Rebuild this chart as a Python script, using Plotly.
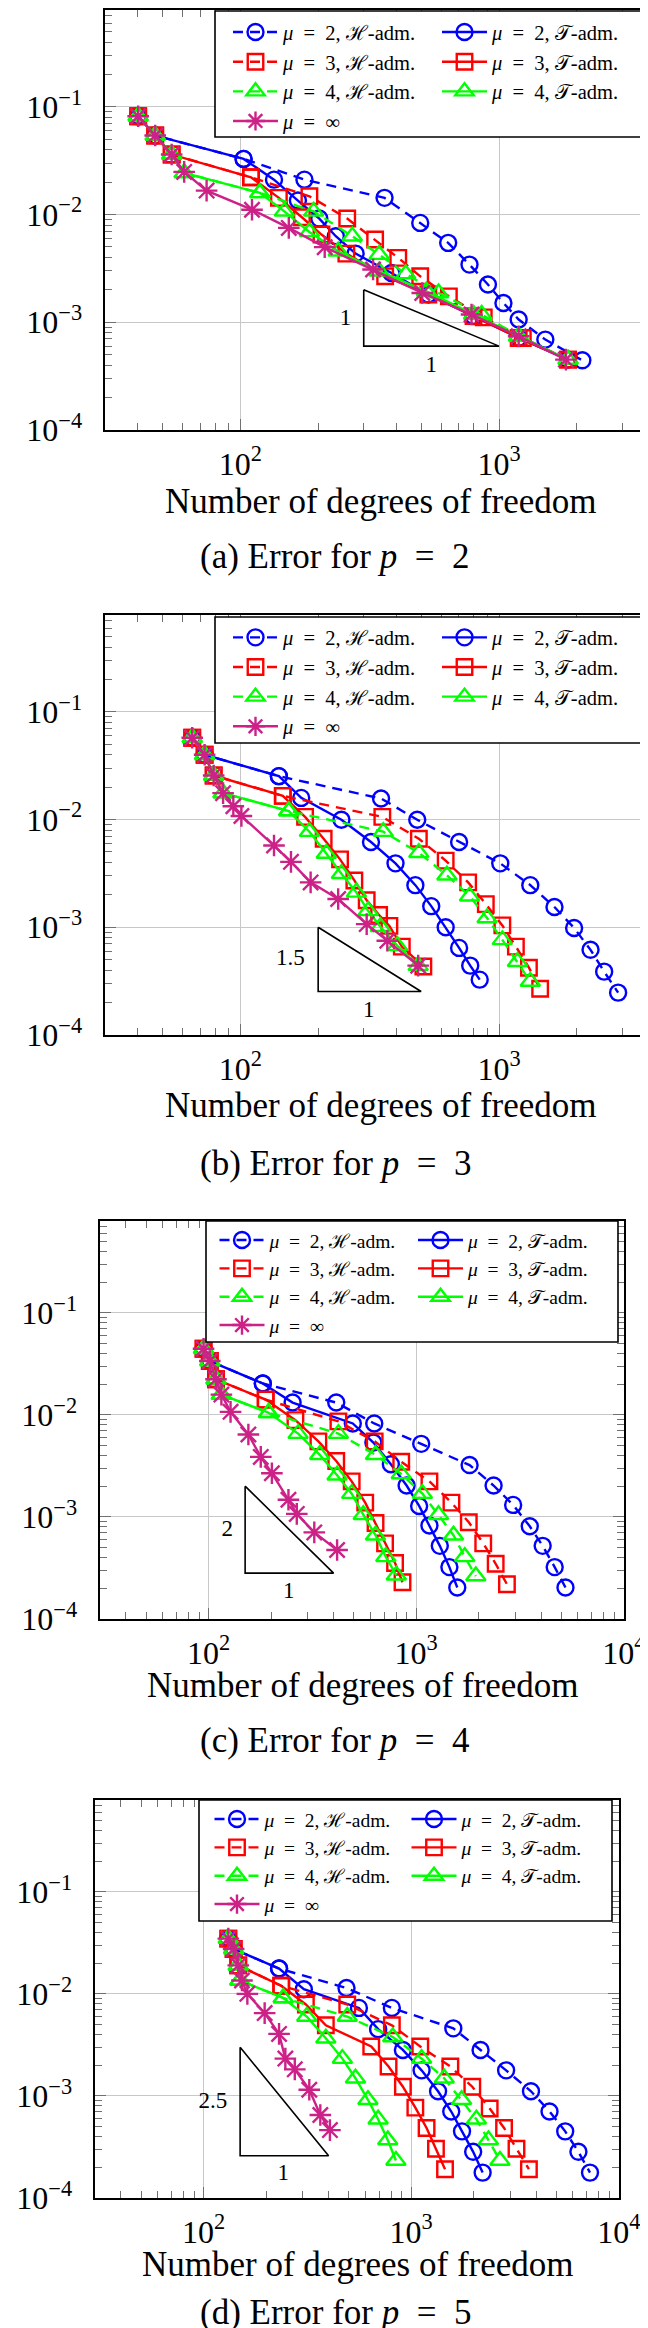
import math
import plotly.graph_objects as go

FONT = "Liberation Serif"
W, H = 648, 2328
ML = 80  # left margin: keeps each legend wrapping into two columns


def fx(px):
    return (px - ML) / (W - ML)


def fy(py):
    return 1 - py / H


# ---------------- data ----------------
# (a) p = 2
a_x_H2 = [40.3, 46.9, 103, 177, 361, 496, 636, 769, 906, 1040, 1191, 1510, 2099]
a_y_H2 = [0.0819, 0.0542, 0.0329, 0.0211, 0.0143, 0.00837, 0.00546, 0.00343, 0.00224, 0.00151, 0.00106, 0.00069, 0.000443]
a_x_T2 = [40.3, 46.9, 103, 135, 167, 202, 234, 279, 384, 533, 797, 1191, 1849]
a_y_T2 = [0.0819, 0.0542, 0.0329, 0.0211, 0.0135, 0.00918, 0.00629, 0.00434, 0.00287, 0.00181, 0.00114, 0.000715, 0.00045]
a_x_H3 = [40.3, 46.9, 54.3, 110, 185, 259, 332, 408, 496, 640, 873, 1236, 1849]
a_y_H3 = [0.0819, 0.0542, 0.0361, 0.0222, 0.0148, 0.00918, 0.00586, 0.00396, 0.00267, 0.00174, 0.00111, 0.000715, 0.00045]
a_x_T3 = [40.3, 46.9, 54.3, 110, 141, 173, 206, 257, 363, 533, 797, 1191, 1849]
a_y_T3 = [0.0819, 0.0542, 0.0361, 0.0222, 0.0143, 0.00944, 0.00652, 0.00434, 0.00267, 0.00181, 0.00114, 0.000715, 0.00045]
a_x_H4 = [40.3, 46.9, 54.3, 60.7, 119, 192, 271, 344, 436, 584, 857, 1191, 1849]
a_y_H4 = [0.0819, 0.0542, 0.0361, 0.0244, 0.0159, 0.0107, 0.00629, 0.00425, 0.00281, 0.00187, 0.00118, 0.000741, 0.00045]
a_x_T4 = [40.3, 46.9, 54.3, 60.7, 119, 148, 185, 239, 344, 524, 797, 1191, 1849]
a_y_T4 = [0.0819, 0.0542, 0.0361, 0.0244, 0.0159, 0.0107, 0.0069, 0.00456, 0.00298, 0.00194, 0.00118, 0.000741, 0.00045]
a_x_inf = [40.3, 46.9, 54.3, 60.7, 74.1, 111, 154, 212, 326, 505, 783, 1191, 1814]
a_y_inf = [0.0819, 0.0542, 0.0361, 0.0249, 0.0167, 0.0111, 0.00752, 0.00498, 0.00309, 0.00187, 0.00118, 0.000741, 0.00045]

# (b) p = 3
b_x_H2 = [65.2, 72.8, 141, 350, 483, 701, 1011, 1321, 1638, 1951, 2258, 2549, 2886]
b_y_H2 = [0.0576, 0.0400, 0.0253, 0.0157, 0.00996, 0.00619, 0.00392, 0.00246, 0.00154, 0.000984, 0.000617, 0.000387, 0.000247]
b_x_T2 = [65.2, 72.8, 141, 172, 246, 320, 398, 475, 547, 622, 701, 774, 842]
b_y_T2 = [0.0576, 0.0400, 0.0253, 0.0159, 0.00996, 0.00619, 0.00392, 0.00246, 0.00157, 0.00100, 0.000643, 0.000440, 0.000326]
b_x_H3 = [65.2, 72.8, 78.9, 146, 354, 490, 622, 760, 889, 1030, 1162, 1305, 1442]
b_y_H3 = [0.0576, 0.0400, 0.0257, 0.0166, 0.0106, 0.00663, 0.00416, 0.00261, 0.00164, 0.00104, 0.000661, 0.000421, 0.000268]
b_x_T3 = [65.2, 72.8, 78.9, 146, 178, 210, 243, 276, 308, 344, 377, 421, 510]
b_y_T3 = [0.0576, 0.0400, 0.0257, 0.0166, 0.0106, 0.00663, 0.00427, 0.00272, 0.00178, 0.00130, 0.00103, 0.000661, 0.000432]
b_x_H4 = [65.2, 72.8, 78.9, 85.8, 154, 357, 490, 629, 769, 899, 1030, 1178, 1321]
b_y_H4 = [0.0576, 0.0400, 0.0257, 0.0176, 0.0120, 0.00772, 0.00492, 0.00304, 0.00194, 0.00122, 0.000763, 0.000478, 0.000313]
b_x_T4 = [65.2, 72.8, 78.9, 85.8, 154, 185, 215, 246, 281, 312, 348, 405, 487]
b_y_T4 = [0.0576, 0.0400, 0.0257, 0.0176, 0.0120, 0.00772, 0.00484, 0.00314, 0.00211, 0.00142, 0.00101, 0.000672, 0.000440]
b_x_inf = [65.2, 72.8, 78.9, 85.8, 94.0, 101, 135, 157, 187, 239, 308, 370, 487]
b_y_inf = [0.0576, 0.0400, 0.0257, 0.0176, 0.0133, 0.0108, 0.00574, 0.00405, 0.00261, 0.00183, 0.00107, 0.000750, 0.000440]

# (c) p = 4
c_x_H2 = [94.6, 101.4, 182.5, 412, 628, 1057, 1808, 2359, 2930, 3523, 4065, 4645, 5235]
c_y_H2 = [0.0445, 0.0337, 0.0203, 0.0132, 0.00824, 0.00520, 0.00322, 0.00203, 0.00131, 0.000809, 0.000520, 0.000322, 0.000203]
c_x_T2 = [94.6, 101.4, 182.5, 254, 495, 622, 755, 899, 1033, 1158, 1299, 1445, 1577]
c_y_T2 = [0.0445, 0.0337, 0.0203, 0.0132, 0.00824, 0.00535, 0.00328, 0.00203, 0.00128, 0.000824, 0.000520, 0.000322, 0.000203]
c_x_H3 = [94.6, 101.4, 108.6, 188.4, 422, 631, 847, 1158, 1478, 1792, 2103, 2414, 2735]
c_y_H3 = [0.0445, 0.0337, 0.0223, 0.0141, 0.00863, 0.00550, 0.00347, 0.00223, 0.00138, 0.000887, 0.000550, 0.000347, 0.000219]
c_x_T3 = [94.6, 101.4, 108.6, 188.4, 262, 338, 412, 489, 568, 637, 708, 791, 859]
c_y_T3 = [0.0445, 0.0337, 0.0223, 0.0141, 0.00887, 0.00550, 0.00353, 0.00223, 0.00138, 0.000871, 0.000550, 0.000353, 0.000229]
c_x_H4 = [94.6, 101.4, 108.6, 115.3, 194.5, 422, 637, 847, 1071, 1281, 1512, 1713, 1937]
c_y_H4 = [0.0445, 0.0337, 0.0223, 0.0158, 0.0105, 0.00655, 0.00406, 0.00263, 0.00169, 0.00105, 0.000661, 0.000406, 0.000263]
c_x_T4 = [94.6, 101.4, 108.6, 115.3, 194.5, 270, 343, 416, 489, 556, 637, 714, 802]
c_y_T4 = [0.0445, 0.0337, 0.0223, 0.0158, 0.0105, 0.00655, 0.00406, 0.00256, 0.00169, 0.00105, 0.000661, 0.000406, 0.000268]
c_x_inf = [94.6, 101.4, 108.6, 115.3, 127.6, 155.5, 178.4, 201.8, 242.5, 266, 323, 416]
c_y_inf = [0.0445, 0.0337, 0.0223, 0.0158, 0.0107, 0.00643, 0.00387, 0.00268, 0.00147, 0.00107, 0.000705, 0.000474]

# (d) p = 5
d_x_H2 = [131.6, 139.6, 231, 488, 807, 1595, 2158, 2865, 3775, 4637, 5517, 6388, 7263]
d_y_H2 = [0.0348, 0.0275, 0.0177, 0.0114, 0.00728, 0.00459, 0.00282, 0.00178, 0.00111, 0.000703, 0.000449, 0.000283, 0.000177]
d_x_T2 = [131.6, 139.6, 231, 304, 560, 693, 912, 1122, 1347, 1559, 1757, 1988, 2208]
d_y_T2 = [0.0348, 0.0275, 0.0177, 0.0111, 0.00728, 0.00451, 0.00282, 0.00178, 0.00111, 0.000703, 0.000449, 0.000283, 0.000177]
d_x_H3 = [131.6, 139.6, 146.9, 236.6, 492, 807, 1106, 1544, 1969, 2388, 2800, 3214, 3690]
d_y_H3 = [0.0348, 0.0275, 0.0190, 0.0120, 0.00787, 0.00492, 0.00305, 0.00194, 0.00123, 0.000753, 0.000485, 0.000303, 0.000191]
d_x_T3 = [131.6, 139.6, 146.9, 236.6, 311, 388, 642, 778, 912, 1047, 1186, 1316, 1455]
d_y_T3 = [0.0348, 0.0275, 0.0190, 0.0120, 0.00787, 0.00492, 0.00305, 0.00194, 0.00123, 0.000768, 0.000485, 0.000303, 0.000191]
d_x_H4 = [131.6, 139.6, 146.9, 149.6, 242, 492, 815, 1122, 1442, 1749, 2061, 2355, 2676]
d_y_H4 = [0.0348, 0.0275, 0.0190, 0.0135, 0.00912, 0.00599, 0.00378, 0.00232, 0.00149, 0.000916, 0.000590, 0.000369, 0.000233]
d_x_T4 = [131.6, 139.6, 146.9, 149.6, 242, 314, 388, 466, 539, 619, 693, 771, 844]
d_y_T4 = [0.0348, 0.0275, 0.0190, 0.0135, 0.00912, 0.00599, 0.00367, 0.00232, 0.00149, 0.000916, 0.000590, 0.000369, 0.000233]
d_x_inf = [131.6, 139.6, 146.9, 153.1, 162.5, 196.9, 231, 247.7, 275, 323, 365, 406]
d_y_inf = [0.0348, 0.0275, 0.0190, 0.0135, 0.0100, 0.00648, 0.00405, 0.00232, 0.00182, 0.00115, 0.00065, 0.000462]

# slope triangles and their labels
a_tri_x = [300, 300, 1000, 300]
a_tri_y = [0.002, 0.0006, 0.0006, 0.002]
a_lab_x = [255, 547]
a_lab_y = [0.00106, 0.00039]
a_lab_t = ["1", "1"]
b_tri_x = [200, 200, 500, 200]
b_tri_y = [0.001, 0.000253, 0.000253, 0.001]
b_lab_x = [156, 314]
b_lab_y = [0.0005, 0.000166]
b_lab_t = ["1.5", "1"]
c_tri_x = [150, 150, 400, 150]
c_tri_y = [0.002, 0.000281, 0.000281, 0.002]
c_lab_x = [123, 243]
c_lab_y = [0.000738, 0.000182]
c_lab_t = ["2", "1"]
d_tri_x = [150, 150, 400, 150]
d_tri_y = [0.003, 0.000259, 0.000259, 0.003]
d_lab_x = [111, 242]
d_lab_y = [0.00087, 0.00017]
d_lab_t = ["2.5", "1"]

captions = ["(a) Error for <i>p</i>\u2002=\u20022", "(b) Error for <i>p</i>\u2002=\u20023",
            "(c) Error for <i>p</i>\u2002=\u20024", "(d) Error for <i>p</i>\u2002=\u20025"]
x_title = "Number of degrees of freedom"

legend_names = [
    "<i>μ</i>\u2002=\u20022, ℋ-adm.", "<i>μ</i>\u2002=\u20022, 𝒯-adm.",
    "<i>μ</i>\u2002=\u20023, ℋ-adm.", "<i>μ</i>\u2002=\u20023, 𝒯-adm.",
    "<i>μ</i>\u2002=\u20024, ℋ-adm.", "<i>μ</i>\u2002=\u20024, 𝒯-adm.",
    "<i>μ</i>\u2002=\u2002∞",
]

# ---------------- styles / layout geometry ----------------
BLUE, RED, GREEN, MAG = "#0000ff", "#ff0000", "#00ff00", "#cc2288"
DASH = "10px,7px"
styles = [
    (BLUE, DASH, "circle-open", 16),
    (BLUE, "solid", "circle-open", 16),
    (RED, DASH, "square-open", 15.5),
    (RED, "solid", "square-open", 15.5),
    (GREEN, DASH, "triangle-up-open", 17),
    (GREEN, "solid", "triangle-up-open", 17),
    (MAG, "solid", "asterisk-open", 18),
]

panels = [
    dict(series=[(a_x_H2, a_y_H2), (a_x_T2, a_y_T2), (a_x_H3, a_y_H3), (a_x_T3, a_y_T3),
                 (a_x_H4, a_y_H4), (a_x_T4, a_y_T4), (a_x_inf, a_y_inf)],
         tri=(a_tri_x, a_tri_y), lab=(a_lab_x, a_lab_y, a_lab_t),
         frame=(97, 647, 2, 422), xr=(30, 4000),
         lbox=(207, 639, 3, 129), leg_x=220, leg_y=4.2, leg_font=20.5, leg_ew=149,
         title_xy=(372, 493), cap_y=548),
    dict(series=[(b_x_H2, b_y_H2), (b_x_T2, b_y_T2), (b_x_H3, b_y_H3), (b_x_T3, b_y_T3),
                 (b_x_H4, b_y_H4), (b_x_T4, b_y_T4), (b_x_inf, b_y_inf)],
         tri=(b_tri_x, b_tri_y), lab=(b_lab_x, b_lab_y, b_lab_t),
         frame=(97, 647, 607, 1027), xr=(30, 4000),
         lbox=(207, 639, 609, 735), leg_x=220, leg_y=609.5, leg_font=20.5, leg_ew=149,
         title_xy=(372, 1097), cap_y=1155),
    dict(series=[(c_x_H2, c_y_H2), (c_x_T2, c_y_T2), (c_x_H3, c_y_H3), (c_x_T3, c_y_T3),
                 (c_x_H4, c_y_H4), (c_x_T4, c_y_T4), (c_x_inf, c_y_inf)],
         tri=(c_tri_x, c_tri_y), lab=(c_lab_x, c_lab_y, c_lab_t),
         frame=(92, 616, 1213, 1611), xr=(30, 10000),
         lbox=(198, 610, 1213, 1334), leg_x=206.5, leg_y=1212.8, leg_font=19.5, leg_ew=138.5,
         title_xy=(354, 1677), cap_y=1732),
    dict(series=[(d_x_H2, d_y_H2), (d_x_T2, d_y_T2), (d_x_H3, d_y_H3), (d_x_T3, d_y_T3),
                 (d_x_H4, d_y_H4), (d_x_T4, d_y_T4), (d_x_inf, d_y_inf)],
         tri=(d_tri_x, d_tri_y), lab=(d_lab_x, d_lab_y, d_lab_t),
         frame=(87, 611, 1792, 2190), xr=(30, 10000),
         lbox=(191, 604, 1792, 1913), leg_x=201.5, leg_y=1791.8, leg_font=19.5, leg_ew=137,
         title_xy=(349, 2256), cap_y=2304),
]

fig = go.Figure()
layout = dict(
    width=W, height=H, margin=dict(l=ML, r=0, t=0, b=0),
    plot_bgcolor="white", paper_bgcolor="white",
    font=dict(family=FONT, color="black"),
    shapes=[], annotations=[],
)

axis_common = dict(
    type="log", showline=True, linecolor="black", linewidth=1.6, mirror="allticks",
    ticks="inside", ticklen=11, tickwidth=1.2, tickcolor="#707070",
    showgrid=True, gridcolor="#c8c8c8", gridwidth=1.3, zeroline=False,
    dtick=1, exponentformat="power", showexponent="all",
    tickfont=dict(family=FONT, size=25.6, color="black"),
    minor=dict(ticks="inside", ticklen=7, tickwidth=1.1, tickcolor="#707070",
               dtick="D1", showgrid=False),
    automargin=False,
)

for i, p in enumerate(panels):
    k = "" if i == 0 else str(i + 1)
    xid, yid, lid = "x" + k, "y" + k, "legend" + k
    for (xs, ys), (col, dash, sym, size), nm in zip(p["series"], styles, legend_names):
        fig.add_trace(go.Scatter(
            x=xs, y=ys, mode="lines+markers", name=nm,
            line=dict(color=col, width=2.4, dash=dash),
            marker=dict(symbol=sym, size=size, color=col, line=dict(width=2.4, color=col)),
            xaxis=xid, yaxis=yid, legend=lid, hoverinfo="skip",
        ))
    tx, ty = p["tri"]
    fig.add_trace(go.Scatter(x=tx, y=ty, mode="lines", line=dict(color="black", width=1.6),
                             xaxis=xid, yaxis=yid, showlegend=False, hoverinfo="skip"))
    lx, ly, lt = p["lab"]
    fig.add_trace(go.Scatter(x=lx, y=ly, text=lt, mode="text",
                             textfont=dict(family=FONT, size=23, color="black"),
                             xaxis=xid, yaxis=yid, showlegend=False, hoverinfo="skip"))

    x0, x1, y0, y1 = p["frame"]
    layout["xaxis" + k] = dict(axis_common, domain=[fx(x0), fx(x1)],
                               range=[math.log10(p["xr"][0]), math.log10(p["xr"][1]) + 0.0008],
                               anchor=yid, ticklabelstandoff=6)
    layout["yaxis" + k] = dict(axis_common, domain=[fy(y1), fy(y0)],
                               range=[-4.0008, -0.1], anchor=xid, ticklabelstandoff=16)

    bx0, bx1, by0, by1 = p["lbox"]
    layout["shapes"].append(dict(type="rect", xref="paper", yref="paper",
                                 x0=fx(bx0), x1=fx(bx1), y0=fy(by1), y1=fy(by0),
                                 fillcolor="white", line=dict(color="black", width=1.6),
                                 layer="above"))
    layout[lid] = dict(
        orientation="h", x=fx(p["leg_x"]), y=fy(p["leg_y"]), xanchor="left", yanchor="top",
        bgcolor="rgba(0,0,0,0)", borderwidth=0, itemwidth=45,
        entrywidth=p["leg_ew"], entrywidthmode="pixels", traceorder="normal",
        font=dict(family=FONT, size=p["leg_font"], color="black"),
    )
    tx_, ty_ = p["title_xy"]
    layout["annotations"].append(dict(text=x_title, x=fx(tx_), y=fy(ty_), xref="paper",
                                      yref="paper", showarrow=False, xanchor="center",
                                      yanchor="middle", font=dict(family=FONT, size=35)))
    layout["annotations"].append(dict(text=captions[i], x=fx(327), y=fy(p["cap_y"]),
                                      xref="paper", yref="paper", showarrow=False,
                                      xanchor="center", yanchor="middle",
                                      font=dict(family=FONT, size=35)))

fig.update_layout(**layout)
fig.write_html("out.html")
